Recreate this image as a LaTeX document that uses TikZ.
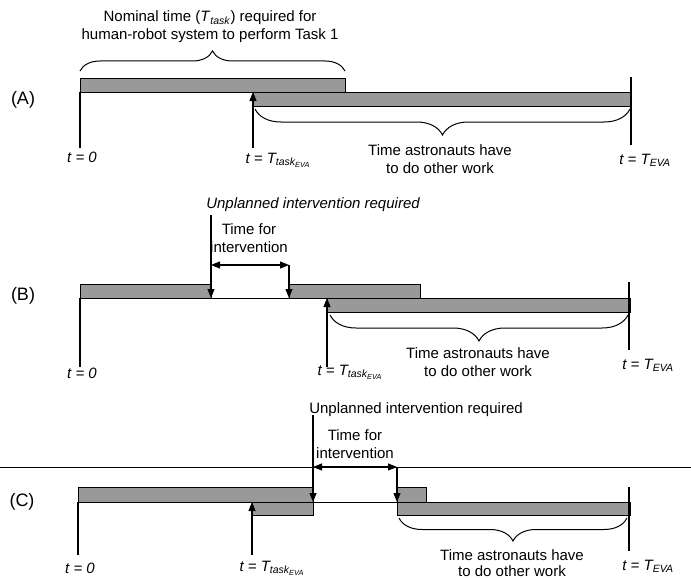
\documentclass[tikz,border=0pt]{standalone}
\usepackage{fontspec}
\setmainfont{Liberation Sans}
\usetikzlibrary{arrows.meta,decorations.pathreplacing}
\begin{document}
\begin{tikzpicture}[x=1pt,y=-1pt,
  bar/.style={draw=black,line width=0.9pt,fill=black!40,inner sep=0pt,outer sep=0pt,anchor=north west},
  ln/.style={line width=1.1pt},
  thin/.style={line width=0.8pt},
  arr/.style={line width=1.1pt,-{Triangle[length=9pt,width=7pt]}},
  darr/.style={line width=1.1pt,{Triangle[length=9pt,width=7pt]}-{Triangle[length=9pt,width=7pt]}},
  brc/.style={decorate,decoration={brace,amplitude=#1,aspect=0.5},line width=1pt},
  txt/.style={font=\fontsize{15}{18}\selectfont,align=center,inner sep=0pt},
  tl/.style={font=\fontsize{15}{17}\selectfont\itshape,inner sep=0pt},
  pl/.style={font=\fontsize{18}{20}\selectfont,inner sep=0pt}]
\useasboundingbox[fill=white] (0,0) rectangle (691,578);

% ---------------- Panel A ----------------
\node[pl] (A) at (23,100) {(A)};
\node[bar,minimum width=265pt,minimum height=14pt] (a1) at (80,78) {};
\node[bar,minimum width=378pt,minimum height=14pt] (a2) at (253,92) {};
\coordinate (a0b) at (80,148);
\coordinate (aTb) at (253,148);
\coordinate (aEt) at (631,77);
\coordinate (aEb) at (631,145);
\draw[ln] (a1.south west) -- (a0b);
\draw[arr] (aTb) -- (a2.north west);
\draw[ln] (aEt) -- (aEb);
\draw[brc=20pt] (80,71) -- (345,71);
\draw[brc=26pt] (630,109) -- (255,109);
\node[txt] (anom) at (210,27) {Nominal time (\textit{T}\textsubscript{\textit{task}}) required for\\human-robot system to perform Task 1};
\node[tl] (at0) at (82,157) {t = 0};
\node[tl] (atT) at (278,160) {t = T\textsubscript{task\textsubscript{EVA}}};
\node[txt] (aoth) at (440,159) {Time astronauts have\\to do other work};
\node[tl] (atE) at (645,160) {t = T\textsubscript{EVA}};

% ---------------- Panel B ----------------
\node[pl] (B) at (23,296) {(B)};
\node[bar,minimum width=131pt,minimum height=14pt] (b1) at (80,284) {};
\node[bar,minimum width=131pt,minimum height=14pt] (b2) at (289,284) {};
\node[bar,minimum width=303pt,minimum height=14pt] (b3) at (327,298) {};
\coordinate (bUt) at (211,215);
\coordinate (bIl) at (211,265);
\coordinate (bIr) at (289,265);
\coordinate (b0b) at (80,367);
\coordinate (bTb) at (327,367);
\coordinate (bEt) at (629,282);
\coordinate (bEb) at (629,350);
\draw[thin] (b1.south east) -- (b2.south west);
\draw[arr] (bUt) -- (b1.south east);
\draw[arr] (bIr) -- (b2.south west);
\draw[darr] (bIl) -- (bIr);
\draw[ln] (b1.south west) -- (b0b);
\draw[arr] (bTb) -- (b3.north west);
\draw[ln] (bEt) -- (bEb);
\draw[brc=26pt] (628,315) -- (330,315);
\node[txt,font=\fontsize{15}{18}\selectfont\itshape] (bunp) at (313,205) {Unplanned intervention required};
\node[txt] (bint) at (249,238) {Time for\\intervention};
\node[tl] (bt0) at (82,373) {t = 0};
\node[tl] (btT) at (350,372) {t = T\textsubscript{task\textsubscript{EVA}}};
\node[txt] (both) at (478,362) {Time astronauts have\\to do other work};
\node[tl] (btE) at (648,365) {t = T\textsubscript{EVA}};

% ---------------- Panel C ----------------
\node[pl] (C) at (22,502) {(C)};
\coordinate (hl) at (0,467);
\coordinate (hr) at (691,467);
\draw[thin] (hl) -- (hr);
\node[bar,minimum width=235pt,minimum height=15pt] (c1) at (78,487) {};
\node[bar,minimum width=61pt,minimum height=13pt] (c2) at (252,502) {};
\node[bar,minimum width=29pt,minimum height=15pt] (c3) at (397,487) {};
\node[bar,minimum width=233pt,minimum height=13pt] (c4) at (397,502) {};
\coordinate (cUt) at (313,415);
\coordinate (cIl) at (313,467);
\coordinate (cIr) at (397,467);
\coordinate (c0b) at (78,555);
\coordinate (cTb) at (252,555);
\coordinate (cEt) at (629,487);
\coordinate (cEb) at (629,551);
\draw[thin] (c1.south east) -- (c4.north west);
\draw[arr] (cUt) -- (c1.south east);
\draw[arr] (cIr) -- (c4.north west);
\draw[darr] (cIl) -- (cIr);
\draw[ln] (c1.south west) -- (c0b);
\draw[arr] (cTb) -- (c2.north west);
\draw[ln] (cEt) -- (cEb);
\draw[brc=23pt] (627,518) -- (399,518);
\node[txt] (cunp) at (416,410) {Unplanned intervention required};
\node[txt] (cint) at (355,444) {Time for\\intervention};
\node[tl] (ct0) at (80,568) {t = 0};
\node[tl] (ctT) at (272,568) {t = T\textsubscript{task\textsubscript{EVA}}};
\node[txt,font=\fontsize{15}{15.5}\selectfont] (coth) at (512,563) {Time astronauts have\\to do other work};
\node[tl] (ctE) at (648,566) {t = T\textsubscript{EVA}};
\end{tikzpicture}
\end{document}
